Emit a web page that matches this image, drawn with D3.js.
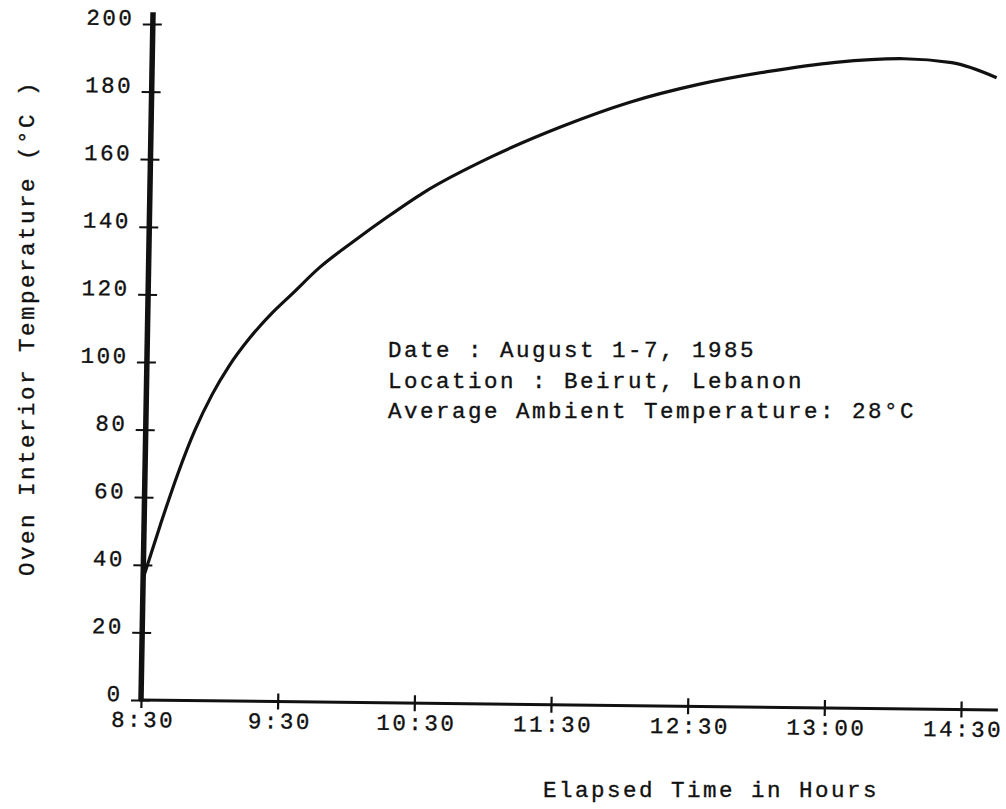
<!DOCTYPE html>
<html>
<head>
<meta charset="utf-8">
<script src="https://cdn.jsdelivr.net/npm/d3@7"></script>
<style>
body { margin: 0; background: #fff; }
text { font-family: "Liberation Mono", "DejaVu Sans Mono", monospace; font-size: 22.5px; letter-spacing: 2.5px; fill: #111; stroke: #111; stroke-width: 0.35px; }
</style>
</head>
<body>
<div id="chart"></div>
<script>
// hours elapsed since 8:30, oven temperature in degC
var hours = [0, 0.12, 0.24, 0.36, 0.48, 0.6, 0.75, 0.9, 1.05, 1.25, 1.5, 1.75, 2.0, 2.5, 3.0, 3.5, 4.0, 4.5, 5.0, 5.5, 5.85, 6.18];
var temps = [36, 52, 67, 80, 90.5, 99, 107.5, 114.5, 120.5, 128.5, 136.5, 144, 151, 162, 171, 178.5, 184, 188, 191, 192.3, 191.3, 187];

var timeLabels = ["8:30", "9:30", "10:30", "11:30", "12:30", "13:00", "14:30"];
var tempTicks = [0, 20, 40, 60, 80, 100, 120, 140, 160, 180, 200];
var notes = ["Date : August 1-7, 1985", "Location : Beirut, Lebanon", "Average Ambient Temperature: 28°C"];

var width = 1006, height = 809;
var spacing = 2.5;

var svg = d3.select("#chart").append("svg")
    .attr("width", width)
    .attr("height", height);

var x = d3.scaleLinear().domain([0, 6]).range([0, 820]);
var y = d3.scaleLinear().domain([0, 200]).range([0, -676]);

// the scanned figure is slightly skewed, so the plot gets a small shear
var plot = svg.append("g")
    .attr("transform", "matrix(1,0.0116,-0.0175,1,141,700)");

// y axis
var yAxis = plot.append("g")
    .call(d3.axisLeft(y).tickValues(tempTicks).tickSize(0));
yAxis.select(".domain").remove();
yAxis.selectAll(".tick line")
    .attr("x1", -10).attr("x2", 9)
    .attr("stroke", "#111").attr("stroke-width", 2);
yAxis.selectAll(".tick text")
    .attr("x", -21 + spacing).attr("dy", 1);

// x axis
var xAxis = plot.append("g")
    .call(d3.axisBottom(x).tickValues(d3.range(timeLabels.length))
        .tickFormat(function(d, i) { return timeLabels[i]; })
        .tickSize(0));
xAxis.select(".domain").remove();
xAxis.selectAll(".tick line")
    .attr("y1", -8).attr("y2", 8)
    .attr("stroke", "#111").attr("stroke-width", 2.2);
xAxis.selectAll(".tick text")
    .attr("y", 27).attr("dy", 0).attr("dx", 2);

// axis lines
plot.append("line")
    .attr("x1", 0).attr("y1", 1)
    .attr("x2", 0).attr("y2", y(203.5))
    .attr("stroke", "#111").attr("stroke-width", 5.5);
plot.append("line")
    .attr("x1", -2).attr("y1", 0)
    .attr("x2", x(6.27)).attr("y2", 0)
    .attr("stroke", "#111").attr("stroke-width", 3);

// curve
var line = d3.line()
    .x(function(d, i) { return x(hours[i]); })
    .y(function(d) { return y(d); })
    .curve(d3.curveMonotoneX);

plot.append("path")
    .datum(temps)
    .attr("d", line)
    .attr("fill", "none")
    .attr("stroke", "#111")
    .attr("stroke-width", 3.2);

// titles
svg.append("text")
    .attr("transform", "translate(34,328) rotate(-90)")
    .attr("text-anchor", "middle")
    .text("Oven Interior Temperature (°C )");

svg.append("text")
    .attr("x", 711).attr("y", 797)
    .attr("text-anchor", "middle")
    .text("Elapsed Time in Hours");

// notes
svg.append("g").selectAll("text")
    .data(notes)
    .enter()
    .append("text")
    .attr("x", 388)
    .attr("y", function(d, i) { return 357 + i * 30.5; })
    .text(function(d) { return d; });
</script>
</body>
</html>
